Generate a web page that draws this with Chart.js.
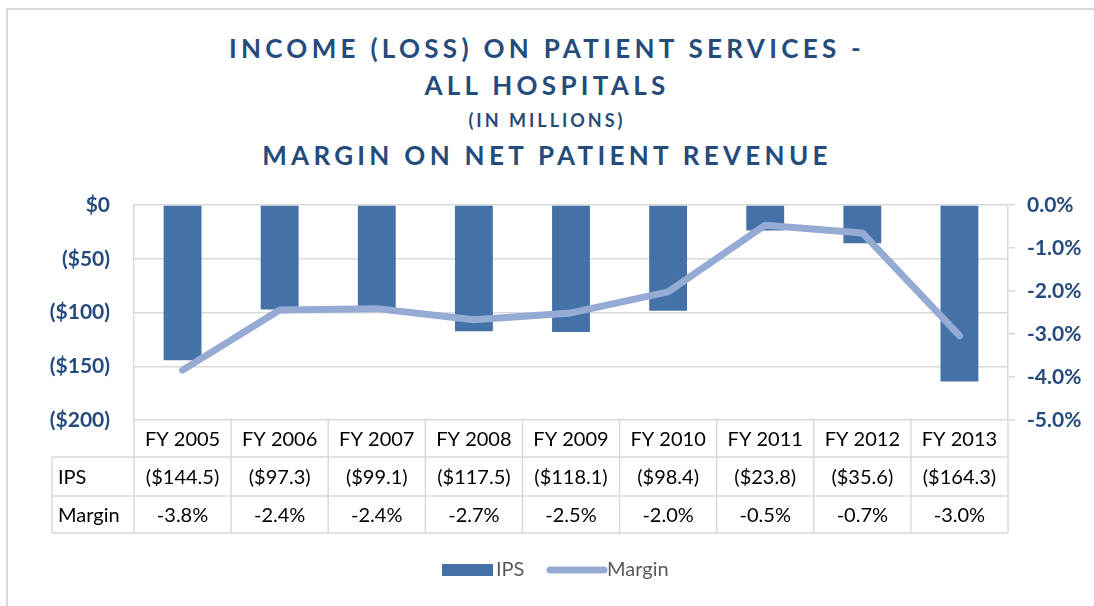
<!DOCTYPE html>
<html>
<head>
<meta charset="utf-8">
<script src="https://cdn.jsdelivr.net/npm/chart.js@4/dist/chart.umd.min.js"></script>
<style>
  html, body { margin: 0; padding: 0; background: #fff; }
  #wrap { position: relative; width: 1094px; height: 606px; overflow: hidden; }
  #frame { position: absolute; left: 6px; top: 8px; width: 1200px; height: 700px; border: 2px solid #d9d9d9; box-sizing: border-box; }
  #title { position: absolute; left: 0; top: 30px; width: 1094px; text-align: center; color: #254b7c;
           font-family: Lato, "Open Sans", sans-serif; font-weight: bold; letter-spacing: 4.3px; }
  #title div { line-height: 37px; font-size: 26px; }
  #title .small { font-size: 18px; line-height: 33px; letter-spacing: 3px; }
  canvas { position: absolute; left: 0; top: 0; }
</style>
</head>
<body>
<div id="wrap">
  <div id="frame"></div>
  <div id="title">
    <div>INCOME (LOSS) ON PATIENT SERVICES -</div>
    <div>ALL HOSPITALS</div>
    <div class="small">(IN MILLIONS)</div>
    <div>MARGIN ON NET PATIENT REVENUE</div>
  </div>
  <canvas id="chart" width="1094" height="606"></canvas>
</div>
<script>
const categories = ["FY 2005", "FY 2006", "FY 2007", "FY 2008", "FY 2009", "FY 2010", "FY 2011", "FY 2012", "FY 2013"];
const ips = [-144.5, -97.3, -99.1, -117.5, -118.1, -98.4, -23.8, -35.6, -164.3];
const margin = [-3.84, -2.44, -2.41, -2.67, -2.51, -2.02, -0.47, -0.65, -3.04];
const leftTicks = ["$0", "($50)", "($100)", "($150)", "($200)"];
const rightTicks = ["0.0%", "-1.0%", "-2.0%", "-3.0%", "-4.0%", "-5.0%"];

const tickBlue = "#254b7c";
const gridGrey = "#d9d9d9";

const fmtMoney = v => "($" + Math.abs(v).toFixed(1) + ")";
const fmtPct = v => v.toFixed(1) + "%";

// data table + legend drawn under the plot
const tablePlugin = {
  id: "tablePlugin",
  afterDraw(chart) {
    const ctx = chart.ctx;
    const area = chart.chartArea;
    const x = chart.scales.x;
    const step = (area.right - area.left) / categories.length;
    const rows = [area.bottom, 457, 496, 533];
    const labelLeft = 52;

    ctx.save();
    ctx.strokeStyle = gridGrey;
    ctx.lineWidth = 1.5;
    ctx.beginPath();
    for (let r = 1; r < rows.length; r++) {
      ctx.moveTo(labelLeft, rows[r]);
      ctx.lineTo(area.right, rows[r]);
    }
    for (let i = 0; i <= categories.length; i++) {
      const px = area.left + i * step;
      ctx.moveTo(px, rows[0]);
      ctx.lineTo(px, rows[3]);
    }
    ctx.moveTo(labelLeft, rows[1]);
    ctx.lineTo(labelLeft, rows[3]);
    ctx.stroke();

    ctx.fillStyle = "#000";
    ctx.font = "20px Lato, 'Open Sans', sans-serif";
    ctx.textBaseline = "middle";
    ctx.textAlign = "center";
    categories.forEach((c, i) => {
      const cx = x.getPixelForValue(i);
      ctx.fillText(c, cx, (rows[0] + rows[1]) / 2 + 1);
      ctx.fillText(fmtMoney(ips[i]), cx, (rows[1] + rows[2]) / 2 + 1);
      ctx.fillText(fmtPct(margin[i]), cx, (rows[2] + rows[3]) / 2 + 1);
    });
    ctx.textAlign = "left";
    ctx.fillText("IPS", labelLeft + 6, (rows[1] + rows[2]) / 2 + 1);
    ctx.fillText("Margin", labelLeft + 6, (rows[2] + rows[3]) / 2 + 1);

    // legend
    const ly = 570;
    ctx.fillStyle = "#4472a8";
    ctx.fillRect(442, ly - 6, 51, 12);
    ctx.fillStyle = "#595959";
    ctx.fillText("IPS", 496, ly);
    ctx.strokeStyle = "#95abd4";
    ctx.lineWidth = 7;
    ctx.lineCap = "round";
    ctx.beginPath();
    ctx.moveTo(550, ly);
    ctx.lineTo(604, ly);
    ctx.stroke();
    ctx.fillText("Margin", 607, ly);
    ctx.restore();
  }
};

new Chart(document.getElementById("chart"), {
  data: {
    labels: categories,
    datasets: [
      {
        type: "line",
        label: "Margin",
        data: margin,
        yAxisID: "y1",
        borderColor: "#95abd4",
        borderWidth: 7,
        borderCapStyle: "round",
        borderJoinStyle: "round",
        pointRadius: 0,
        tension: 0,
        order: 0
      },
      {
        type: "bar",
        label: "IPS",
        data: ips,
        yAxisID: "y",
        backgroundColor: "#4472a8",
        categoryPercentage: 1,
        barPercentage: 0.39,
        order: 1
      }
    ]
  },
  options: {
    responsive: false,
    animation: false,
    layout: { padding: { left: 0, right: 0, top: 205, bottom: 186 } },
    plugins: { legend: { display: false }, title: { display: false }, tooltip: { enabled: false } },
    scales: {
      x: { display: false, offset: true },
      y: {
        position: "left",
        min: -200, max: 0,
        afterFit(s) { s.width = 134; },
        afterBuildTicks(s) { s.ticks = [0, -50, -100, -150, -200].map(v => ({ value: v })); },
        grid: { color: gridGrey, lineWidth: 1.5, drawTicks: false },
        border: { color: gridGrey, width: 1.5 },
        ticks: {
          padding: 24,
          color: tickBlue,
          font: { family: "Lato, 'Open Sans', sans-serif", size: 21, weight: "bold" },
          callback: (v, i) => leftTicks[i]
        }
      },
      y1: {
        position: "right",
        min: -5, max: 0,
        afterFit(s) { s.width = 1094 - 1008; },
        afterBuildTicks(s) { s.ticks = [0, -1, -2, -3, -4, -5].map(v => ({ value: v })); },
        grid: { drawOnChartArea: false, color: gridGrey, lineWidth: 1.5, tickLength: 7 },
        border: { color: gridGrey, width: 1.5 },
        ticks: {
          padding: 12,
          color: tickBlue,
          font: { family: "Lato, 'Open Sans', sans-serif", size: 21, weight: "bold" },
          callback: (v, i) => rightTicks[i]
        }
      }
    }
  },
  plugins: [tablePlugin]
});
</script>
</body>
</html>
